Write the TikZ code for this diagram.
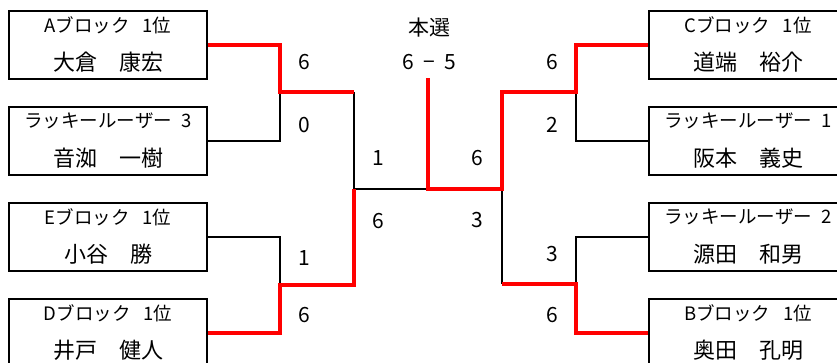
\documentclass[tikz,border=0pt]{standalone}
\usepackage{fontspec}
\setmainfont{Noto Sans CJK JP}
\usetikzlibrary{calc}

\begin{document}
\begin{tikzpicture}[
  x=1pt,y=-1pt,
  entry/.style={draw,line width=1.8pt,minimum width=198pt,minimum height=68pt,inner sep=0pt},
  rank/.style={font=\fontsize{18.5}{20}\selectfont,inner sep=0pt},
  player/.style={font=\fontsize{22}{24}\selectfont,inner sep=0pt},
  score/.style={font=\fontsize{21}{23}\selectfont,inner sep=0pt},
  lose/.style={line width=1.8pt},
  win/.style={line width=3.5pt,draw=red},
]
\path[use as bounding box,clip] (0,0) rectangle (837,362);
\fill[white] (0,0) rectangle (837,362);

% left half
\node[entry] (boxA) at (108,45) {};
\node[rank] at ($(boxA)+(0,-20)$) {Aブロック\hspace{0.7em}1位};
\node[player] at ($(boxA)+(0,17)$) {大倉　康宏};
\node[entry] (boxL3) at (108,141) {};
\node[rank] at ($(boxL3)+(0,-20)$) {ラッキールーザー\hspace{0.5em}3};
\node[player] at ($(boxL3)+(0,17)$) {音洳　一樹};
\node[entry] (boxE) at (108,237) {};
\node[rank] at ($(boxE)+(0,-20)$) {Eブロック\hspace{0.7em}1位};
\node[player] at ($(boxE)+(0,17)$) {小谷　勝};
\node[entry] (boxD) at (108,333) {};
\node[rank] at ($(boxD)+(0,-20)$) {Dブロック\hspace{0.7em}1位};
\node[player] at ($(boxD)+(0,17)$) {井戸　健人};

% right half
\node[entry] (boxC) at (748,45) {};
\node[rank] at ($(boxC)+(0,-20)$) {Cブロック\hspace{0.7em}1位};
\node[player] at ($(boxC)+(0,17)$) {道端　裕介};
\node[entry] (boxL1) at (748,141) {};
\node[rank] at ($(boxL1)+(0,-20)$) {ラッキールーザー\hspace{0.5em}1};
\node[player] at ($(boxL1)+(0,17)$) {阪本　義史};
\node[entry] (boxL2) at (748,237) {};
\node[rank] at ($(boxL2)+(0,-20)$) {ラッキールーザー\hspace{0.5em}2};
\node[player] at ($(boxL2)+(0,17)$) {源田　和男};
\node[entry] (boxB) at (748,333) {};
\node[rank] at ($(boxB)+(0,-20)$) {Bブロック\hspace{0.7em}1位};
\node[player] at ($(boxB)+(0,17)$) {奥田　孔明};

% bracket joints
\coordinate (qL1) at (280,92);
\coordinate (qL2) at (280,285);
\coordinate (sL) at (354,189);
\coordinate (fin) at (428,189);
\coordinate (finTop) at (428,78);
\coordinate (sR) at (502,189);
\coordinate (qR1) at (576,92);
\coordinate (qR2) at (576,284);

\draw[lose] (boxL3.east) -| (qL1);
\draw[lose] (boxE.east) -| (qL2);
\draw[lose] (qL1 -| sL) -- (sL) -- (fin);
\draw[lose] (boxL1.west) -| (qR1);
\draw[lose] (boxL2.west) -| (qR2);
\draw[lose] (sR) -- (qR2 -| sR);

\draw[win] (boxA.east) -| (qL1) -- (qL1 -| sL);
\draw[win] (boxD.east) -| (qL2) -- (qL2 -| sL) -- (sL);
\draw[win] (finTop) -- (fin) -- (sR) -- (qR1 -| sR) -- (qR1) |- (boxC.west);
\draw[win] (qR2 -| sR) -- (qR2) |- (boxB.west);

% scores
\node[score] (title) at (429,28) {本選};
\node[score] (final) at (429,62) {6\hspace{0.45em}−\hspace{0.45em}5};
\node[score] (scA) at (304,62) {6};
\node[score] (scL3) at (304,125) {0};
\node[score] (scE) at (304,258) {1};
\node[score] (scD) at (304,315) {6};
\node[score] (scSL1) at (378,158) {1};
\node[score] (scSL2) at (378,221) {6};
\node[score] (scC) at (552,62) {6};
\node[score] (scL1) at (552,125) {2};
\node[score] (scL2) at (552,254) {3};
\node[score] (scB) at (552,315) {6};
\node[score] (scSR1) at (477,158) {6};
\node[score] (scSR2) at (477,220) {3};

\end{tikzpicture}
\end{document}
